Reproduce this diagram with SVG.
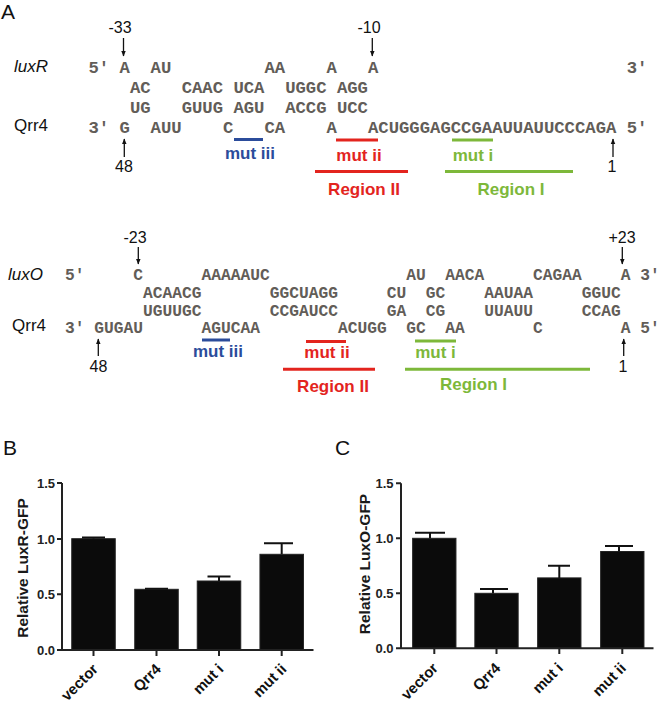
<svg xmlns="http://www.w3.org/2000/svg" width="666" height="716" viewBox="0 0 666 716">
<defs>
<marker id="ah" viewBox="0 0 10 10" refX="9" refY="5" markerWidth="6" markerHeight="6" orient="auto" markerUnits="userSpaceOnUse">
<path d="M0,1 L10,5 L0,9 Z" fill="#111"/>
</marker>
<style>
.seqR{font-family:"Liberation Mono","DejaVu Sans Mono",monospace;font-weight:bold;font-size:17.25px;fill:#625d58}
.seqO{font-family:"Liberation Mono","DejaVu Sans Mono",monospace;font-weight:bold;font-size:16.25px;fill:#625d58}
.lab{font-family:"Liberation Sans",Arial,sans-serif;font-size:17px;fill:#111}
.num{font-family:"Liberation Sans",Arial,sans-serif;font-size:16px;fill:#111;text-anchor:middle}
.pan{font-family:"Liberation Sans",Arial,sans-serif;font-size:21px;fill:#111}
.mut{font-family:"Liberation Sans",Arial,sans-serif;font-size:17px;font-weight:bold;text-anchor:middle}
.blue{fill:#2B4C9B}.red{fill:#E3241E}.green{fill:#7DB83A}
.lb{stroke:#2B4C9B;stroke-width:3}.lr{stroke:#E3241E;stroke-width:3}.lg{stroke:#7DB83A;stroke-width:3}
.arr{stroke:#111;stroke-width:1.3;marker-end:url(#ah)}
.ax{stroke:#222;stroke-width:2;fill:none}
.bar{fill:#0b0b0b;stroke:#222;stroke-width:1}
.err{stroke:#111;stroke-width:2;fill:none}
.tick{font-family:"Liberation Sans",Arial,sans-serif;font-size:13px;font-weight:bold;fill:#222;text-anchor:end}
.ytl{font-family:"Liberation Sans",Arial,sans-serif;font-size:15.5px;font-weight:bold;fill:#1a1a1a;text-anchor:middle}
.xl{font-family:"Liberation Sans",Arial,sans-serif;font-size:15px;font-weight:bold;fill:#111;text-anchor:end}
</style>
</defs>
<rect width="666" height="716" fill="#fff"/>

<g id="panelA">
<text class="pan" x="1" y="19">A</text>

<g id="luxR-block">
<text class="lab" x="14" y="72" font-style="italic">luxR</text>
<text class="lab" x="14" y="131">Qrr4</text>
<g class="seqR">
<text x="88.5" y="73">5'</text>
<text x="119.55" y="73">A</text>
<text x="150.6" y="73">AU</text>
<text x="264.45" y="73">AA</text>
<text x="326.55" y="73">A</text>
<text x="367.95" y="73">A</text>
<text x="626.7" y="73">3'</text>

<text x="129.9" y="93">AC</text>
<text x="181.65" y="93">CAAC</text>
<text x="233.4" y="93">UCA</text>
<text x="285.15" y="93">UGGC</text>
<text x="336.9" y="93">AGG</text>

<text x="129.9" y="113">UG</text>
<text x="181.65" y="113">GUUG</text>
<text x="233.4" y="113">AGU</text>
<text x="285.15" y="113">ACCG</text>
<text x="336.9" y="113">UCC</text>

<text x="88.5" y="133">3'</text>
<text x="119.55" y="133">G</text>
<text x="150.6" y="133">AUU</text>
<text x="223.05" y="133">C</text>
<text x="264.45" y="133">CA</text>
<text x="326.55" y="133">A</text>
<text x="367.95" y="133">ACUGGGAGCCGAAUUAUUCCCAGA</text>
<text x="626.7" y="133">5'</text>
</g>
<text class="num" x="120" y="33">-33</text>
<text class="num" x="369" y="33">-10</text>
<text class="num" x="124" y="172">48</text>
<text class="num" x="612" y="172">1</text>
<line class="lb" x1="234" y1="139.5" x2="263" y2="139.5"/>
<text class="mut blue" x="250" y="159">mut iii</text>
<line class="lr" x1="336" y1="140" x2="378" y2="140"/>
<text class="mut red" x="359" y="161">mut ii</text>
<line class="lr" x1="315" y1="171.5" x2="408" y2="171.5"/>
<text class="mut red" x="364" y="195">Region II</text>
<line class="lg" x1="452" y1="140" x2="493" y2="140"/>
<text class="mut green" x="473" y="161">mut i</text>
<line class="lg" x1="445" y1="171.5" x2="573" y2="171.5"/>
<text class="mut green" x="511" y="195">Region I</text>
</g>

<g id="luxO-block">
<text class="lab" x="8" y="280" font-style="italic">luxO</text>
<text class="lab" x="12" y="331">Qrr4</text>
<g class="seqO">
<text x="65" y="280">5'</text>
<text x="133.25" y="280">C</text>
<text x="201.5" y="280">AAAAAUC</text>
<text x="406.25" y="280">AU</text>
<text x="445.25" y="280">AACA</text>
<text x="533" y="280">CAGAA</text>
<text x="620.75" y="280">A</text>
<text x="640.25" y="280">3'</text>

<text x="143" y="298">ACAACG</text>
<text x="269.75" y="298">GGCUAGG</text>
<text x="386.75" y="298">CU</text>
<text x="425.75" y="298">GC</text>
<text x="484.25" y="298">AAUAA</text>
<text x="581.75" y="298">GGUC</text>

<text x="143" y="315.5">UGUUGC</text>
<text x="269.75" y="315.5">CCGAUCC</text>
<text x="386.75" y="315.5">GA</text>
<text x="425.75" y="315.5">CG</text>
<text x="484.25" y="315.5">UUAUU</text>
<text x="581.75" y="315.5">CCAG</text>

<text x="65" y="333">3'</text>
<text x="94.25" y="333">GUGAU</text>
<text x="201.5" y="333">AGUCAA</text>
<text x="338" y="333">ACUGG</text>
<text x="406.25" y="333">GC</text>
<text x="445.25" y="333">AA</text>
<text x="533" y="333">C</text>
<text x="620.75" y="333">A</text>
<text x="640.25" y="333">5'</text>
</g>
<text class="num" x="135" y="243">-23</text>
<text class="num" x="622" y="243">+23</text>
<text class="num" x="98.5" y="372">48</text>
<text class="num" x="623" y="372">1</text>
<line class="lb" x1="202" y1="340" x2="230" y2="340"/>
<text class="mut blue" x="218" y="357">mut iii</text>
<line class="lr" x1="306" y1="341.5" x2="346" y2="341.5"/>
<text class="mut red" x="327" y="358">mut ii</text>
<line class="lr" x1="283" y1="369.3" x2="375" y2="369.3"/>
<text class="mut red" x="333" y="392">Region II</text>
<line class="lg" x1="415" y1="341" x2="456" y2="341"/>
<text class="mut green" x="435.5" y="358">mut i</text>
<line class="lg" x1="405" y1="369.3" x2="590" y2="369.3"/>
<text class="mut green" x="473.5" y="390">Region I</text>
</g>
</g>

<g id="connectors">
<line class="arr" x1="123.5" y1="38" x2="123.5" y2="56"/>
<line class="arr" x1="372.3" y1="38" x2="372.3" y2="56"/>
<line class="arr" x1="124.3" y1="157" x2="124.3" y2="139"/>
<line class="arr" x1="613" y1="157" x2="613" y2="139"/>
<line class="arr" x1="138.3" y1="247" x2="138.3" y2="264"/>
<line class="arr" x1="622.3" y1="247" x2="622.3" y2="264"/>
<line class="arr" x1="98.3" y1="356" x2="98.3" y2="339"/>
<line class="arr" x1="623.7" y1="356" x2="623.7" y2="339"/>
</g>

<g id="panelB">
<text class="pan" x="3" y="455">B</text>
<text class="ytl" transform="translate(28,568) rotate(-90)">Relative LuxR-GFP</text>
<g class="bars">
<rect class="bar" x="71.75" y="538.7" width="43.5" height="111.3"/>
<rect class="bar" x="134.75" y="589.3" width="43.5" height="60.7"/>
<rect class="bar" x="197.25" y="581" width="43.5" height="69"/>
<rect class="bar" x="259.95" y="554.3" width="43.5" height="95.7"/>
</g>
<path class="err" d="M93.5,538.7V537.6M82,537.6H105 M156.5,589.3V588.8M145,588.8H168 M219,581V576.5M207.5,576.5H230.5 M281.7,554.3V543.2M264,543.2H293"/>
<path class="ax" d="M62,483V650H313.5 M57,483H62 M57,539H62 M57,594.3H62 M57,650H62 M93.5,650V656 M156.5,650V656 M219,650V656 M281.7,650V656"/>
<text class="tick" x="55" y="487.7">1.5</text>
<text class="tick" x="55" y="543.7">1.0</text>
<text class="tick" x="55" y="599">0.5</text>
<text class="tick" x="55" y="654.7">0.0</text>
<text class="xl" transform="translate(99,670) rotate(-45)">vector</text>
<text class="xl" transform="translate(162,670) rotate(-45)">Qrr4</text>
<text class="xl" transform="translate(224.5,670) rotate(-45)">mut i</text>
<text class="xl" transform="translate(287.5,670) rotate(-45)">mut ii</text>
</g>

<g id="panelC">
<text class="pan" x="335" y="455">C</text>
<text class="ytl" transform="translate(369.5,564) rotate(-90)">Relative LuxO-GFP</text>
<g class="bars">
<rect class="bar" x="412.65" y="538.3" width="43.3" height="110"/>
<rect class="bar" x="474.85" y="593.3" width="43.3" height="55"/>
<rect class="bar" x="537.65" y="577.9" width="43.3" height="70.4"/>
<rect class="bar" x="600.65" y="551.5" width="43.3" height="96.8"/>
</g>
<path class="err" d="M430,538.3V532.8M415,532.8H445 M493,593.3V588.9M480,588.9H508 M559.3,577.9V565.8M548,565.8H570 M619,551.5V546M605,546H633"/>
<path class="ax" d="M401,483.3V648.3H653.5 M396,483.3H401 M396,538.3H401 M396,593.3H401 M396,648.3H401 M434.3,648.3V654 M496.5,648.3V654 M559.3,648.3V654 M622.3,648.3V654"/>
<text class="tick" x="393.5" y="488">1.5</text>
<text class="tick" x="393.5" y="543">1.0</text>
<text class="tick" x="393.5" y="598">0.5</text>
<text class="tick" x="393.5" y="653">0.0</text>
<text class="xl" transform="translate(439,669) rotate(-45)">vector</text>
<text class="xl" transform="translate(501.5,669) rotate(-45)">Qrr4</text>
<text class="xl" transform="translate(564,669) rotate(-45)">mut i</text>
<text class="xl" transform="translate(627,669) rotate(-45)">mut ii</text>
</g>
</svg>
